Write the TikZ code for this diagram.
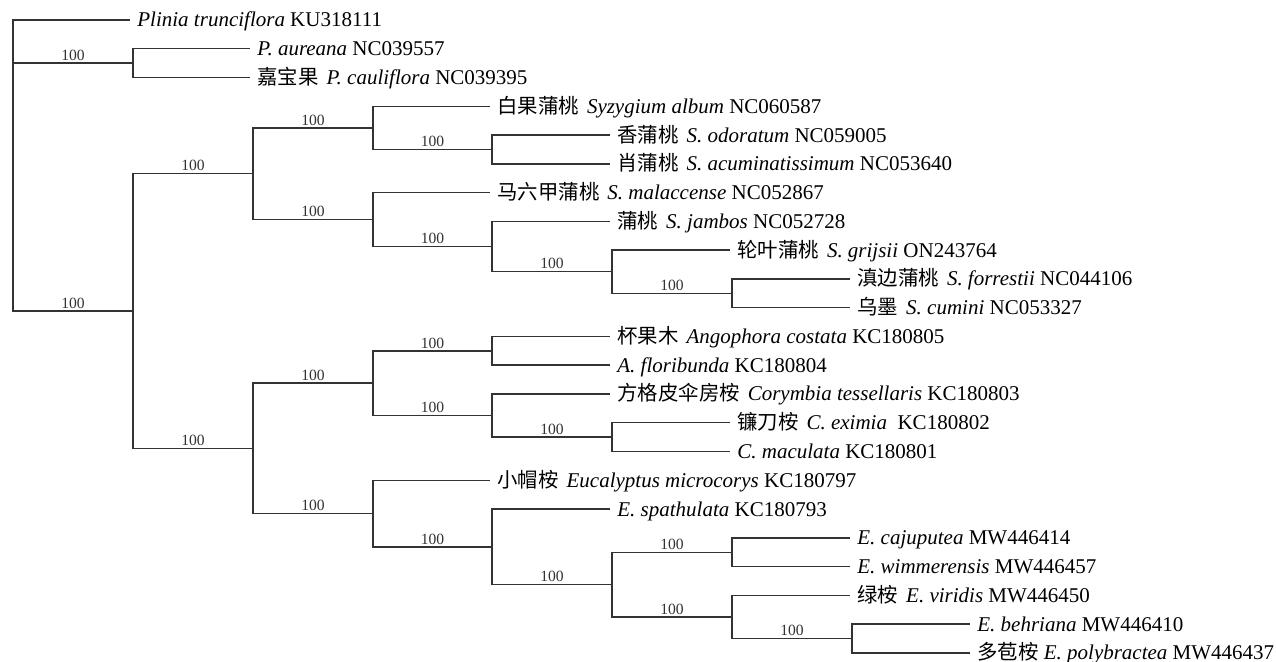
\documentclass[tikz,border=0pt]{standalone}
\usepackage{fontspec}
\setmainfont{Liberation Serif}
\newfontfamily\cjk{Noto Sans CJK SC}
\usetikzlibrary{positioning}
\newcommand{\zhname}[1]{{\cjk\fontsize{10.2}{12}\selectfont #1}\hspace{4pt}}

\tikzset{
  branch/.style={line width=0.7pt, black!80},
  taxon/.style={anchor=west, inner xsep=3.5pt, inner ysep=0pt, text height=8pt, text depth=1pt, font=\fontsize{10.5}{12}\selectfont},
  boot/.style={pos=0.75, above, inner sep=1pt, font=\fontsize{7.8}{9}\selectfont}
}

\begin{document}
\begin{tikzpicture}[x=0.5pt, y=-0.5pt]
        \useasboundingbox (0,0) rectangle (1276,662);

        % Inner nodes
        \coordinate (root) at (13,165.5);
        \coordinate (pc) at (133,63.2);
        \coordinate (big) at (133,311.1);
        \coordinate (syz) at (253,173.8);
        \coordinate (s1) at (373,127.9);
        \coordinate (s1a) at (492,149.5);
        \coordinate (s2) at (373,219.6);
        \coordinate (s2a) at (492,246.6);
        \coordinate (s2b) at (612,271.8);
        \coordinate (s2c) at (732,293.3);
        \coordinate (myr) at (253,448.4);
        \coordinate (ac) at (373,383.2);
        \coordinate (ang) at (492,350.9);
        \coordinate (cor) at (492,415.6);
        \coordinate (corb) at (612,437.2);
        \coordinate (euc) at (373,513.6);
        \coordinate (euca) at (492,546.9);
        \coordinate (eucb) at (612,584.6);
        \coordinate (eucc) at (732,552.3);
        \coordinate (eucd) at (732,617.0);
        \coordinate (euce) at (852,638.6);

        % Taxa
        \node[taxon] (t0) at (130,20) {\textit{Plinia trunciflora} KU318111};
        \node[taxon] (t1) at (250,48.8) {\textit{P. aureana} NC039557};
        \node[taxon] (t2) at (250,77.5) {\zhname{嘉宝果}\textit{P. cauliflora} NC039395};
        \node[taxon] (t3) at (490,106.3) {\zhname{白果蒲桃}\textit{Syzygium album} NC060587};
        \node[taxon] (t4) at (610,135.1) {\zhname{香蒲桃}\textit{S. odoratum} NC059005};
        \node[taxon] (t5) at (610,163.9) {\zhname{肖蒲桃}\textit{S. acuminatissimum} NC053640};
        \node[taxon] (t6) at (490,192.6) {\zhname{马六甲蒲桃}\textit{S. malaccense} NC052867};
        \node[taxon] (t7) at (610,221.4) {\zhname{蒲桃}\textit{S. jambos} NC052728};
        \node[taxon] (t8) at (730,250.2) {\zhname{轮叶蒲桃}\textit{S. grijsii} ON243764};
        \node[taxon] (t9) at (850,278.9) {\zhname{滇边蒲桃}\textit{S. forrestii} NC044106};
        \node[taxon] (t10) at (850,307.7) {\zhname{乌墨}\textit{S. cumini} NC053327};
        \node[taxon] (t11) at (610,336.5) {\zhname{杯果木}\textit{Angophora costata} KC180805};
        \node[taxon] (t12) at (610,365.2) {\textit{A. floribunda} KC180804};
        \node[taxon] (t13) at (610,394.0) {\zhname{方格皮伞房桉}\textit{Corymbia tessellaris} KC180803};
        \node[taxon] (t14) at (730,422.8) {\zhname{镰刀桉}\textit{C. eximia}\ \ KC180802};
        \node[taxon] (t15) at (730,451.6) {\textit{C. maculata} KC180801};
        \node[taxon] (t16) at (490,480.3) {\zhname{小帽桉}\textit{Eucalyptus microcorys} KC180797};
        \node[taxon] (t17) at (610,509.1) {\textit{E. spathulata} KC180793};
        \node[taxon] (t18) at (850,537.9) {\textit{E. cajuputea} MW446414};
        \node[taxon] (t19) at (850,566.6) {\textit{E. wimmerensis} MW446457};
        \node[taxon] (t20) at (850,595.4) {\zhname{绿桉}\textit{E. viridis} MW446450};
        \node[taxon] (t21) at (970,624.2) {\textit{E. behriana} MW446410};
        \node[taxon] (t22) at (970,652.9) {{\cjk\fontsize{10.2}{12}\selectfont 多苞桉} \textit{E. polybractea} MW446437};

        % Root and Plinia
        \draw[branch] (root) |- (t0.west);
        \draw[branch] (root) |- node[boot]{100} (pc);
        \draw[branch] (root) |- node[boot]{100} (big);
        \draw[branch] (pc) |- (t1.west);
        \draw[branch] (pc) |- (t2.west);

        % Syzygium
        \draw[branch] (big) |- node[boot]{100} (syz);
        \draw[branch] (syz) |- node[boot]{100} (s1);
        \draw[branch] (syz) |- node[boot]{100} (s2);
        \draw[branch] (s1) |- (t3.west);
        \draw[branch] (s1) |- node[boot]{100} (s1a);
        \draw[branch] (s1a) |- (t4.west);
        \draw[branch] (s1a) |- (t5.west);
        \draw[branch] (s2) |- (t6.west);
        \draw[branch] (s2) |- node[boot]{100} (s2a);
        \draw[branch] (s2a) |- (t7.west);
        \draw[branch] (s2a) |- node[boot]{100} (s2b);
        \draw[branch] (s2b) |- (t8.west);
        \draw[branch] (s2b) |- node[boot]{100} (s2c);
        \draw[branch] (s2c) |- (t9.west);
        \draw[branch] (s2c) |- (t10.west);

        % Angophora and Corymbia
        \draw[branch] (big) |- node[boot]{100} (myr);
        \draw[branch] (myr) |- node[boot]{100} (ac);
        \draw[branch] (ac) |- node[boot]{100} (ang);
        \draw[branch] (ac) |- node[boot]{100} (cor);
        \draw[branch] (ang) |- (t11.west);
        \draw[branch] (ang) |- (t12.west);
        \draw[branch] (cor) |- (t13.west);
        \draw[branch] (cor) |- node[boot]{100} (corb);
        \draw[branch] (corb) |- (t14.west);
        \draw[branch] (corb) |- (t15.west);

        % Eucalyptus
        \draw[branch] (myr) |- node[boot]{100} (euc);
        \draw[branch] (euc) |- (t16.west);
        \draw[branch] (euc) |- node[boot]{100} (euca);
        \draw[branch] (euca) |- (t17.west);
        \draw[branch] (euca) |- node[boot]{100} (eucb);
        \draw[branch] (eucb) |- node[boot]{100} (eucc);
        \draw[branch] (eucb) |- node[boot]{100} (eucd);
        \draw[branch] (eucc) |- (t18.west);
        \draw[branch] (eucc) |- (t19.west);
        \draw[branch] (eucd) |- (t20.west);
        \draw[branch] (eucd) |- node[boot]{100} (euce);
        \draw[branch] (euce) |- (t21.west);
        \draw[branch] (euce) |- (t22.west);
    \end{tikzpicture}
\end{document}
